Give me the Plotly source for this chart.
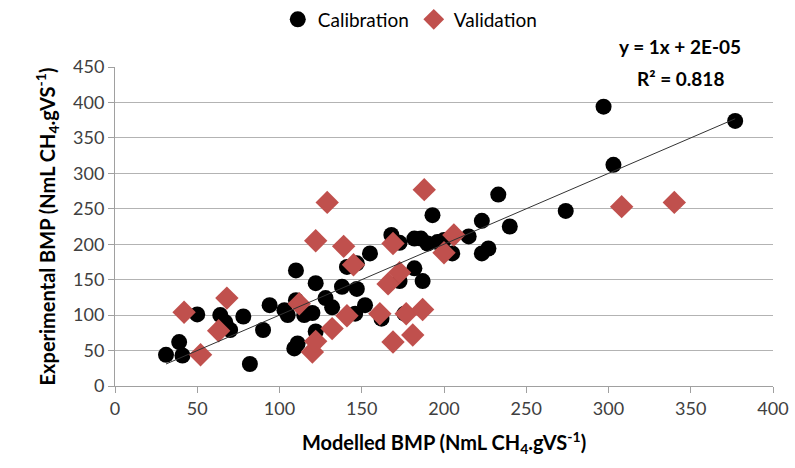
import plotly.graph_objects as go

# Calibration data (Modelled BMP, Experimental BMP)
cal_x = [31, 39, 41, 50, 64, 67, 70, 78, 82, 90, 94, 103, 105, 109, 110, 111, 110, 115, 120,
         122, 122, 128, 132, 138, 141, 146, 147, 147, 152, 155, 162, 168, 173, 173, 176, 182,
         182, 186, 187, 190, 193, 196, 200, 205, 215, 223, 223, 227, 233, 240, 274, 297, 303, 377]
cal_y = [44, 62, 43, 101, 100, 90, 79, 98, 31, 79, 114, 107, 100, 53, 163, 60, 121, 100, 103,
         145, 77, 124, 111, 140, 168, 102, 137, 173, 114, 187, 95, 213, 202, 148, 102, 166,
         208, 208, 148, 201, 241, 203, 206, 187, 211, 233, 187, 194, 270, 225, 247, 394, 312, 374]

# Validation data
val_x = [42, 52, 63, 68, 112, 120, 122, 122, 129, 132, 139, 141, 145, 161, 166, 169, 169,
         173, 177, 181, 187, 188, 200, 206, 308, 340]
val_y = [104, 44, 78, 124, 116, 48, 63, 205, 259, 81, 197, 99, 171, 102, 144, 62, 201,
         160, 102, 72, 108, 277, 188, 213, 253, 259]

slope = 1.0
intercept = 2e-05
r2 = 0.818

x_ticks = [0, 50, 100, 150, 200, 250, 300, 350, 400]
y_ticks = [0, 50, 100, 150, 200, 250, 300, 350, 400, 450]

FONT = "Lato"
TXT = "#404040"

fig = go.Figure()

fig.add_trace(go.Scatter(
    x=cal_x, y=cal_y, mode="markers", name="Calibration",
    marker=dict(symbol="circle", size=16, color="black"),
))
fig.add_trace(go.Scatter(
    x=val_x, y=val_y, mode="markers", name="Validation",
    marker=dict(symbol="diamond", size=18, color="#C0504D"),
))

tx = [min(cal_x), max(cal_x)]
ty = [slope * v + intercept for v in tx]
fig.add_trace(go.Scatter(
    x=tx, y=ty, mode="lines", showlegend=False,
    line=dict(color="#333333", width=1),
))

fig.add_annotation(
    xref="paper", yref="paper", x=0.859, y=1.064,
    text="<b>y = 1x + 2E-05</b>", showarrow=False,
    font=dict(family=FONT, size=19, color="#000000"), xanchor="center", yanchor="middle",
)
fig.add_annotation(
    xref="paper", yref="paper", x=0.859, y=0.963,
    text="<b>R² = %.3f</b>" % r2, showarrow=False,
    font=dict(family=FONT, size=19, color="#000000"), xanchor="center", yanchor="middle",
)

fig.update_layout(
    width=795, height=468,
    margin=dict(l=115, r=22, t=67, b=82, autoexpand=False),
    paper_bgcolor="white", plot_bgcolor="white",
    font=dict(family=FONT, size=18, color=TXT),
    legend=dict(
        orientation="h", x=0.448, y=1.149, xanchor="center", yanchor="middle",
        font=dict(family=FONT, size=19, color="#000000"),
        itemwidth=30, tracegroupgap=0,
    ),
    xaxis=dict(
        range=[0, 400], tickvals=x_ticks, showgrid=False, zeroline=False,
        showline=True, linecolor="#a0a0a0", linewidth=1,
        ticks="outside", ticklen=6, tickcolor="#a0a0a0",
        tickfont=dict(family=FONT, size=18, color=TXT),
        title=dict(text="<b>Modelled BMP (NmL CH<sub>4</sub>.gVS<sup>-1</sup>)</b>",
                   font=dict(family=FONT, size=20, color="#000000"), standoff=18),
    ),
    yaxis=dict(
        range=[0, 450], tickvals=y_ticks, showgrid=True, gridcolor="#b3b3b3", gridwidth=1,
        zeroline=False, showline=True, linecolor="#a0a0a0", linewidth=1,
        ticks="outside", ticklen=6, tickcolor="#a0a0a0",
        tickfont=dict(family=FONT, size=18, color=TXT),
        title=dict(text="<b>Experimental BMP (NmL CH<sub>4</sub>.gVS<sup>-1</sup>)</b>",
                   font=dict(family=FONT, size=20, color="#000000"), standoff=12),
    ),
)

fig.write_html("out.html")
